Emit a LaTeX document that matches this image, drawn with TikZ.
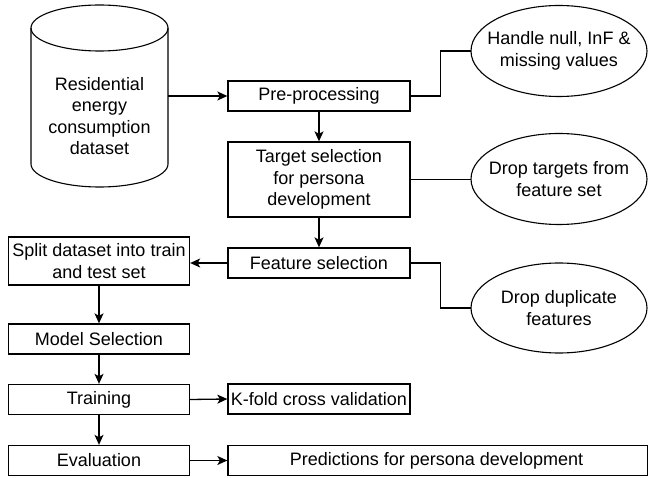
\documentclass[tikz,border=0pt]{standalone}
\usepackage{fontspec}
\setmainfont{Liberation Sans}
\usetikzlibrary{arrows.meta}
\begin{document}
\begin{tikzpicture}[x=1pt,y=-1pt,
  every node/.style={font=\fontsize{18}{21.6}\selectfont, align=center, inner sep=0pt},
  box/.style={draw, line width=1.3pt, rectangle, minimum height=#1},
  box/.default=30pt,
  ovalline/.style={line width=1.1pt},
  link/.style={line width=1.3pt},
  arr/.style={line width=1.3pt, -{Stealth[length=10pt,width=9pt,inset=2.5pt]}}]
\useasboundingbox (0,0) rectangle (648,478);
% cylinder
\draw[line width=1.1pt] (31,28) -- (31,164) arc[start angle=180,end angle=360,x radius=68.5,y radius=-23] -- (168,28);
\draw[line width=1.1pt] (99.5,28) ellipse[x radius=68.5,y radius=23];
\node[minimum width=137pt, minimum height=182pt] (db) at (99.5,96) {};
\node (dbtext) at (99.5,116) {Residential\\energy\\consumption\\dataset};
% right column
\node[box, minimum width=182pt] (pre) at (319,96) {Pre-processing};
\node[box=75pt, minimum width=182pt] (target) at (319,179.5) {Target selection\\for persona\\development};
\node[box, minimum width=182pt] (feat) at (319,263) {Feature selection};
\node[box, minimum width=182pt] (kfold) at (319,399) {K-fold cross validation};
\node[box, minimum width=420pt] (pred) at (438,460.5) {};
\node (predtext) at (436.5,460.5) {Predictions for persona development};
% left column
\node[box=48pt, minimum width=181pt] (split) at (99,261) {Split dataset into train\\and test set};
\node[box, minimum width=181pt] (model) at (99,339) {Model Selection};
\node[box, minimum width=181pt] (train) at (99,399.5) {Training};
\node[box, minimum width=181pt] (eval) at (99,460.5) {Evaluation};
% ellipses
\draw[ovalline] (559,51) ellipse[x radius=88,y radius=45.5];
\draw[ovalline] (559,179) ellipse[x radius=88,y radius=45.5];
\draw[ovalline] (559,308) ellipse[x radius=88,y radius=45];
\node (e1) at (559,51) {Handle null, InF \&\\missing values};
\node (e2) at (559,179) {Drop targets from\\feature set};
\node (e3) at (559,308) {Drop duplicate\\features};
\coordinate (e1w) at (471,51);
\coordinate (e2w) at (471,179.5);
\coordinate (e3w) at (471,308);
% connectors
\draw[arr] (db.east) -- (pre.west);
\draw[arr] (pre.south) -- (target.north);
\draw[arr] (target.south) -- (feat.north);
\draw[arr] (feat.west) -- (feat.west -| split.east);
\draw[arr] (split.south) -- (model.north);
\draw[arr] (model.south) -- (train.north);
\draw[arr] (train.south) -- (eval.north);
\draw[arr] (train.east) -- (kfold.west);
\draw[arr] (eval.east) -- (pred.west);
\draw[link] (pre.east) -- ++(30,0) |- (e1w);
\draw[link] (target.east) -- (e2w);
\draw[link] (feat.east) -- ++(30,0) |- (e3w);
\end{tikzpicture}
\end{document}
